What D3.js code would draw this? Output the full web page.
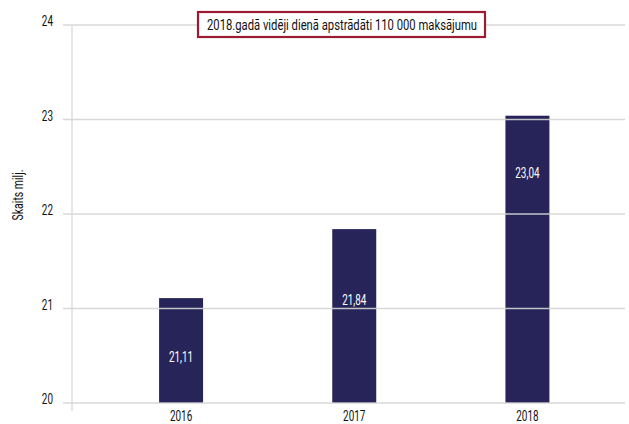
<!DOCTYPE html>
<html><head><meta charset="utf-8">
<script src="https://cdn.jsdelivr.net/npm/d3@7/dist/d3.min.js"></script>
<style>body{margin:0;background:#fff}svg{display:block}text{font-family:Roboto,"Noto Sans",sans-serif}</style>
</head><body>
<script>
const years = ["2016", "2017", "2018"];
const values = [21.11, 21.84, 23.04];
const valueLabels = ["21,11", "21,84", "23,04"];
const labelAt = [20.49, 21.1, 22.44];
const yTicks = [20, 21, 22, 23, 24];
const title = "2018.gadā vidēji dienā apstrādāti 110 000 maksājumu";
const yTitle = "Skaits milj.";

const W = 629, H = 424;
const svg = d3.select("body").append("svg").attr("width", W).attr("height", H);
const y = d3.scaleLinear().domain([20, 24]).range([403, 25]);
const x = d3.scaleBand().domain(years).range([94.5, 614]).paddingInner(0.746).paddingOuter(0.373);

function condense(sel, k) {
  sel.each(function () {
    const w = this.getComputedTextLength();
    d3.select(this).attr("textLength", w * k).attr("lengthAdjust", "spacingAndGlyphs");
  });
}
const K = 0.66;

// bars
svg.selectAll("rect.bar").data(values).enter().append("rect")
  .attr("x", (d, i) => x(years[i])).attr("width", x.bandwidth())
  .attr("y", d => y(d)).attr("height", d => y(20) - y(d))
  .attr("fill", "#262458");

// gridlines on top
svg.selectAll("line.grid").data(yTicks).enter().append("line")
  .attr("x1", 63).attr("x2", 625).attr("y1", d => y(d)).attr("y2", d => y(d))
  .attr("stroke", "#d4d4d4").attr("stroke-width", 1.3).attr("opacity", 0.9);

// y axis line
svg.append("line").attr("x1", 72).attr("x2", 72).attr("y1", y(24)).attr("y2", 411)
  .attr("stroke", "#d9d9d9").attr("stroke-width", 1.3);

// y tick labels
svg.selectAll("text.yt").data(yTicks).enter().append("text")
  .attr("x", 53).attr("y", d => y(d) + 1).attr("text-anchor", "end")
  .attr("font-size", 15).attr("fill", "#111").text(d => d).call(condense, K);

// x labels
svg.selectAll("text.xt").data(years).enter().append("text")
  .attr("x", d => x(d) + x.bandwidth() / 2).attr("y", 421).attr("text-anchor", "middle")
  .attr("font-size", 15).attr("fill", "#111").text(d => d).call(condense, K);

// value labels
svg.selectAll("text.vl").data(valueLabels).enter().append("text")
  .attr("x", (d, i) => x(years[i]) + x.bandwidth() / 2).attr("y", (d, i) => y(labelAt[i]) + 5.5)
  .attr("text-anchor", "middle").attr("font-size", 15).attr("fill", "#fff").text(d => d).call(condense, K);

// y title
svg.append("text").attr("transform", "translate(23,195) rotate(-90)")
  .attr("text-anchor", "middle").attr("font-size", 15).attr("fill", "#111").text(yTitle).call(condense, 0.7);

// title box
svg.append("rect").attr("x", 198).attr("y", 12).attr("width", 287).attr("height", 25)
  .attr("fill", "#fff").attr("stroke", "#9b1b30").attr("stroke-width", 2.2);
svg.append("text").attr("x", 342).attr("y", 30).attr("text-anchor", "middle")
  .attr("font-size", 15).attr("fill", "#111").text(title)
  .attr("textLength", 270).attr("lengthAdjust", "spacingAndGlyphs");
</script>
</body></html>
